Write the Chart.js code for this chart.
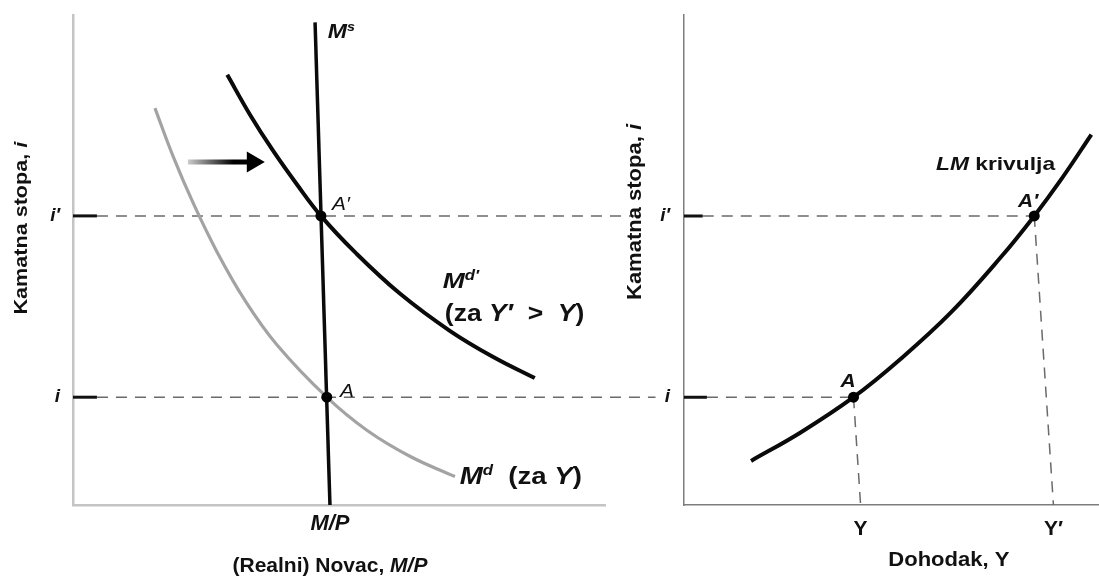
<!DOCTYPE html>
<html><head><meta charset="utf-8">
<script src="https://cdn.jsdelivr.net/npm/chart.js@4/dist/chart.umd.min.js"></script>
<style>
html,body{margin:0;padding:0;background:#fff;overflow:hidden;width:1099px;height:581px;position:relative;}
#c1{position:absolute;left:0;top:0;}
#c2{position:absolute;left:600px;top:0;}
</style></head><body>
<canvas id="c1" width="660" height="581"></canvas>
<canvas id="c2" width="506" height="581"></canvas>
<script>
// ---------- DATA ----------
const rateValues = [2.2, 5.9];            // i, i′
const rateLabels = ['i', 'i′'];
// left panel: real money market
const moneySupplyX = [4.55, 4.83];
const moneySupplyY = [9.85, 0];
const mdX      = [1.54, 1.88, 2.26, 2.71, 3.23, 3.84, 4.77, 5.53, 6.34, 7.18];
const mdY      = [8.10, 7.12, 6.16, 5.16, 4.18, 3.26, 2.20, 1.52, 0.99, 0.58];
const mdPrimeX = [2.90, 3.33, 3.76, 4.21, 4.66, 5.30, 6.15, 7.09, 7.90, 8.68];
const mdPrimeY = [8.78, 7.96, 7.23, 6.54, 5.90, 5.16, 4.31, 3.55, 3.02, 2.59];
const eqMoneyX = [4.77, 4.66];            // A, A′
const moneyTicks = [4.83];
const moneyTickLabels = ['M/P'];
const shiftArrowX = [2.16, 3.38];
const shiftArrowY = [7.0, 7.0];
// right panel: LM curve
const lmX = [1.61, 2.80, 4.07, 5.20, 6.41, 7.61, 8.41, 9.06, 9.78];
const lmY = [0.90, 1.48, 2.20, 2.98, 3.93, 5.06, 5.90, 6.65, 7.56];
const eqIncomeX = [4.07, 8.41];           // A, A′
const incomeTicks = [4.24, 8.87];
const incomeTickLabels = ['Y', 'Y′'];

// ---------- HELPERS ----------
const FF = '"Liberation Sans", Arial, Helvetica, sans-serif';
const pts = (xs, ys) => xs.map((v, i) => ({x: v, y: ys[i]}));

function drawNotes(chart, notes) {
  const ctx = chart.ctx, xs = chart.scales.x, ys = chart.scales.y;
  notes.forEach(n => {
    const px = xs.getPixelForValue(n.x), py = ys.getPixelForValue(n.y);
    ctx.save();
    ctx.translate(px, py);
    if (n.rot) ctx.rotate(n.rot);
    ctx.scale(n.sx || 1, 1);
    ctx.fillStyle = '#111';
    ctx.textBaseline = 'alphabetic';
    ctx.textAlign = 'left';
    let w = 0;
    n.parts.forEach(p => { ctx.font = p.f + ' ' + FF; w += ctx.measureText(p.t).width; });
    let cx = n.align === 'center' ? -w / 2 : 0;
    n.parts.forEach(p => {
      ctx.font = p.f + ' ' + FF;
      ctx.fillText(p.t, cx, p.dy || 0);
      cx += ctx.measureText(p.t).width;
    });
    ctx.restore();
  });
}

function line(data, color, width, extra) {
  return Object.assign({data, showLine: true, borderColor: color, borderWidth: width,
    pointRadius: 0, pointHoverRadius: 0, fill: false, tension: 0}, extra || {});
}
const smooth = {tension: 0.4, borderCapStyle: 'butt', borderJoinStyle: 'round'};
const dash = {borderDash: [11, 8], clip: false, order: 10};

function yAxis(width, pad, borderColor, borderWidth) {
  return {
    type: 'linear', min: 0, max: 10,
    grid: {display: false, drawTicks: false},
    border: {display: true, color: borderColor, width: borderWidth},
    afterBuildTicks: s => { s.ticks = rateValues.map(v => ({value: v})); },
    afterFit: s => { s.width = width; s.paddingTop = 0; s.paddingBottom = 0; },
    ticks: {autoSkip: false, padding: pad, color: '#111',
      font: {family: FF, size: 19, style: 'italic', weight: 'bold'},
      callback: (v, i) => rateLabels[i]}
  };
}
function xAxis(tickVals, tickLabels, font, pad, borderColor, borderWidth) {
  return {
    type: 'linear', min: 0, max: 10,
    grid: {display: false, drawTicks: false},
    border: {display: true, color: borderColor, width: borderWidth},
    afterBuildTicks: s => { s.ticks = tickVals.map(v => ({value: v})); },
    afterFit: s => { s.height = 76; s.paddingLeft = 0; s.paddingRight = 0; },
    ticks: {autoSkip: false, maxRotation: 0, padding: pad, color: '#111', font,
      callback: (v, i) => tickLabels[i]}
  };
}
const baseOpts = {
  responsive: false, animation: false, events: [],
  plugins: {legend: {display: false}, tooltip: {enabled: false}}
};

// ---------- LEFT PANEL ----------
const leftNotes = [
  {x: 4.79, y: 9.53, sx: 1.1, parts: [{t: 'M', f: 'italic bold 21px'}, {t: 's', f: 'italic bold 13px', dy: -7}]},
  {x: 4.87, y: 6.02, sx: 1.1, parts: [{t: 'A′', f: 'italic 19px'}]},
  {x: 5.02, y: 2.20, sx: 1.1, parts: [{t: 'A', f: 'italic 19px'}]},
  {x: 6.95, y: 4.43, sx: 1.2, parts: [{t: 'M', f: 'italic bold 22px'}, {t: 'd′', f: 'italic bold 14px', dy: -8}]},
  {x: 6.99, y: 3.76, sx: 1.15, parts: [{t: '(za ', f: 'bold 23px'}, {t: 'Y′', f: 'italic bold 23px'},
    {t: '  >  ', f: 'bold 23px'}, {t: 'Y', f: 'italic bold 23px'}, {t: ')', f: 'bold 23px'}]},
  {x: 7.27, y: 0.43, sx: 1.2, parts: [{t: 'M', f: 'italic bold 23px'}, {t: 'd', f: 'italic bold 14px', dy: -9},
    {t: '  (za ', f: 'bold 23px'}, {t: 'Y', f: 'italic bold 23px'}, {t: ')', f: 'bold 23px'}]},
  {x: -0.865, y: 5.65, sx: 1.2, rot: -Math.PI / 2, align: 'center',
    parts: [{t: 'Kamatna stopa, ', f: 'bold 18px'}, {t: 'i', f: 'italic bold 18px'}]},
  {x: 4.83, y: -1.37, align: 'center', parts: [{t: '(Realni) Novac, ', f: 'bold 21px'}, {t: 'M/P', f: 'italic bold 21px'}]}
];

new Chart(document.getElementById('c1'), {
  type: 'scatter',
  data: {datasets: [
    {data: pts(eqMoneyX, rateValues), pointRadius: 5.5, pointBackgroundColor: '#000', pointBorderWidth: 0, order: 0},
    line(pts(shiftArrowX, shiftArrowY), ctx => {
      const ch = ctx.chart;
      if (!ch.chartArea) return '#000';
      const xs = ch.scales.x;
      const g = ch.ctx.createLinearGradient(xs.getPixelForValue(shiftArrowX[0]), 0, xs.getPixelForValue(shiftArrowX[1]), 0);
      g.addColorStop(0, 'rgba(0,0,0,0.2)'); g.addColorStop(0.7, '#000'); g.addColorStop(1, '#000');
      return g;
    }, 5, {pointStyle: 'triangle', pointRotation: 90, pointRadius: [0, 12],
      pointBackgroundColor: '#000', pointBorderColor: '#000', pointBorderWidth: 0, order: 1}),
    line(pts(moneySupplyX, moneySupplyY), '#0a0a0a', 3.5, {order: 2}),
    line(pts(mdPrimeX, mdPrimeY), '#0a0a0a', 4, Object.assign({order: 3}, smooth)),
    line(pts(mdX, mdY), '#a3a3a3', 3.2, Object.assign({order: 4}, smooth)),
    line([{x: 0, y: rateValues[1]}, {x: 0.45, y: rateValues[1]}], '#111', 3, {order: 5}),
    line([{x: 0, y: rateValues[0]}, {x: 0.45, y: rateValues[0]}], '#111', 3, {order: 5}),
    line([{x: 0.45, y: rateValues[1]}, {x: 10.75, y: rateValues[1]}], '#6a6a6a', 1.5, dash),
    line([{x: 0.45, y: rateValues[0]}, {x: 10.95, y: rateValues[0]}], '#6a6a6a', 1.5, dash)
  ]},
  options: Object.assign({}, baseOpts, {
    layout: {padding: {top: 15, right: 55, left: 0, bottom: 0}},
    scales: {
      x: xAxis(moneyTicks, moneyTickLabels, {family: FF, size: 22, style: 'italic', weight: 'bold'}, 6, '#c4c4c4', 2.5),
      y: yAxis(73, 13, '#c4c4c4', 2.5)
    }
  }),
  plugins: [{id: 'notesL', afterDraw: ch => drawNotes(ch, leftNotes)}]
});

// ---------- RIGHT PANEL ----------
const rightNotes = [
  {x: 6.05, y: 6.84, sx: 1.2, parts: [{t: 'LM', f: 'italic bold 19px'}, {t: ' krivulja', f: 'bold 19px'}]},
  {x: 8.02, y: 6.08, sx: 1.1, parts: [{t: 'A′', f: 'italic bold 19px'}]},
  {x: 3.76, y: 2.41, sx: 1.1, parts: [{t: 'A', f: 'italic bold 19px'}]},
  {x: -1.036, y: 5.98, sx: 1.1, rot: -Math.PI / 2, align: 'center',
    parts: [{t: 'Kamatna stopa, ', f: 'bold 20px'}, {t: 'i', f: 'italic bold 20px'}]},
  {x: 6.36, y: -1.25, align: 'center', sx: 1.05, parts: [{t: 'Dohodak, ', f: 'bold 21px'}, {t: 'Y', f: 'bold 21px'}]}
];

new Chart(document.getElementById('c2'), {
  type: 'scatter',
  data: {datasets: [
    {data: pts(eqIncomeX, rateValues), pointRadius: 5.5, pointBackgroundColor: '#000', pointBorderWidth: 0, order: 0},
    line(pts(lmX, lmY), '#0a0a0a', 4, Object.assign({order: 1}, smooth)),
    line([{x: 0, y: rateValues[1]}, {x: 0.45, y: rateValues[1]}], '#111', 3, {order: 5}),
    line([{x: 0, y: rateValues[0]}, {x: 0.55, y: rateValues[0]}], '#111', 3, {order: 5}),
    line([{x: 0.45, y: rateValues[1]}, {x: eqIncomeX[1], y: rateValues[1]}], '#6a6a6a', 1.5, dash),
    line([{x: 0.55, y: rateValues[0]}, {x: eqIncomeX[0], y: rateValues[0]}], '#6a6a6a', 1.5, dash),
    line([{x: eqIncomeX[0], y: rateValues[0]}, {x: incomeTicks[0], y: 0}], '#6a6a6a', 1.5, dash),
    line([{x: eqIncomeX[1], y: rateValues[1]}, {x: incomeTicks[1], y: 0}], '#6a6a6a', 1.5, dash)
  ]},
  options: Object.assign({}, baseOpts, {
    layout: {padding: {top: 15, right: 0, left: 0, bottom: 0}},
    scales: {
      x: xAxis(incomeTicks, incomeTickLabels, {family: FF, size: 21, weight: 'bold'}, 12, '#7d7d7d', 1.5),
      y: yAxis(84, 14, '#7d7d7d', 1.5)
    }
  }),
  plugins: [{id: 'notesR', afterDraw: ch => drawNotes(ch, rightNotes)}]
});
</script>
</body></html>
